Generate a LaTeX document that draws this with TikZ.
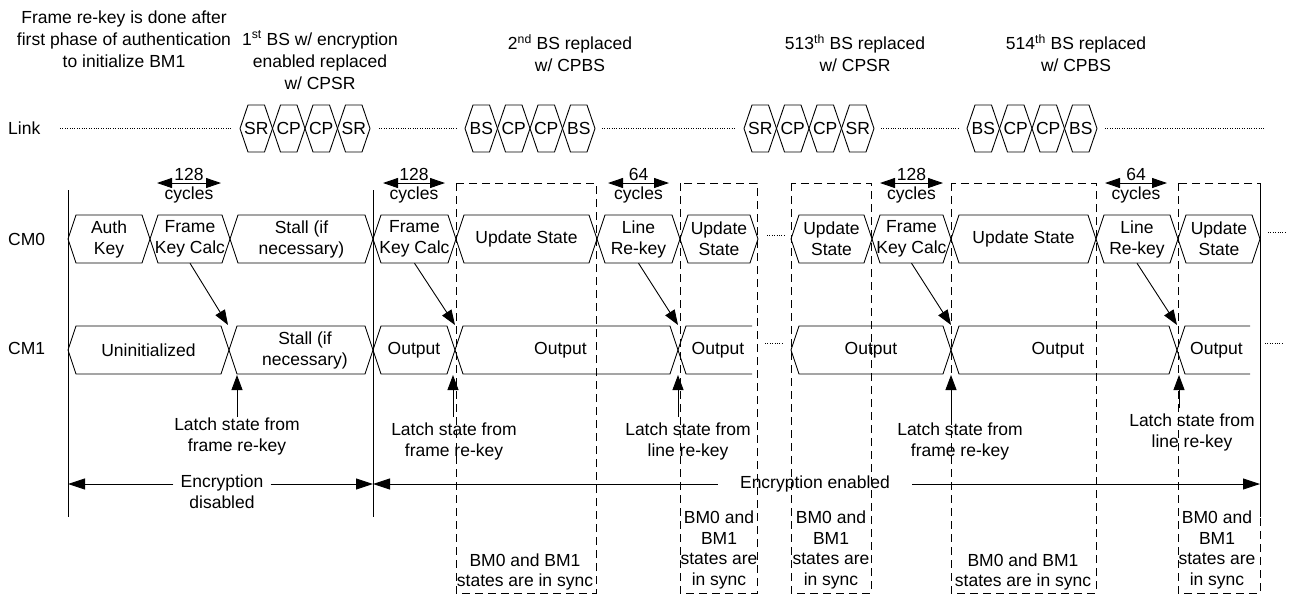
\documentclass[tikz,border=0pt]{standalone}
\usepackage{fontspec}
\setmainfont{Liberation Sans}
\usetikzlibrary{arrows.meta}
\tikzset{
  txt/.style={font=\fontsize{17.5}{21}\selectfont, inner sep=0pt, align=center},
  ttl/.style={font=\fontsize{17.5}{22}\selectfont, inner sep=0pt, align=center},
  ln/.style={line width=0.9pt, line join=miter},
  arr/.style={ln, -{Triangle[length=15pt,width=11pt]}},
  earr/.style={ln, -{Triangle[length=17pt,width=11pt]}},
  darr/.style={ln, {Triangle[length=15pt,width=10pt]}-{Triangle[length=15pt,width=10pt]}},
  dbox/.style={ln, dash pattern=on 8pt off 5pt},
  dotl/.style={line width=0.8pt, dash pattern=on 0.8pt off 1.6pt},
  seg/.style={txt, minimum height=48pt},
}
% hexagonal bus segment: [text xshift]{x1}{x2}{ymid}{name}{text}
\newcommand\hseg[6][0]{%
  \draw[ln] (#2,#4) -- ({#2+8},{#4-24}) -- ({#3-8},{#4-24}) -- (#3,#4) -- ({#3-8},{#4+24}) -- ({#2+8},{#4+24}) -- cycle;
  \node[seg, xshift=#1] (#5) at ({(#2+#3)/2},#4) {#6};}
% open-ended bus segment
\newcommand\oseg[5]{%
  \draw[ln] (#2,{#3-24}) -- ({#1+8},{#3-24}) -- (#1,#3) -- ({#1+8},{#3+24}) -- (#2,{#3+24});
  \node[seg] (#4) at ({(#1+#2)/2+3},#3) {#5};}
% link symbol hexagon
\newcommand\lhex[4]{%
  \draw[ln] (#1,128.5) -- ({#1+8},105) -- ({#2-8},105) -- (#2,128.5) -- ({#2-8},152) -- ({#1+8},152) -- cycle;
  \node[txt] (#3) at ({(#1+#2)/2},128.5) {#4};}
% cycles annotation
\newcommand\cyc[4]{%
  \coordinate (#4a) at (#1,183);
  \coordinate (#4b) at (#2,183);
  \draw[darr] (#4a) -- (#4b);
  \node[txt, anchor=base] (#4n) at ({(#1+#2)/2},180.5) {#3};
  \node[txt, anchor=base] (#4c) at ({(#1+#2)/2},199) {cycles};}
\begin{document}
\begin{tikzpicture}[x=1pt,y=-1pt]
\useasboundingbox (0,0) rectangle (1290,595);

% top annotations
\node[ttl] (t0) at (124,39) {Frame re-key is done after\\first phase of authentication\\to initialize BM1};
\node[ttl] (t1) at (320,60) {1\textsuperscript{st} BS w/ encryption\\enabled replaced\\w/ CPSR};
\node[ttl] (t2) at (570,53) {2\textsuperscript{nd} BS replaced\\w/ CPBS};
\node[ttl] (t3) at (855,53) {513\textsuperscript{th} BS replaced\\w/ CPSR};
\node[ttl] (t4) at (1076,53) {514\textsuperscript{th} BS replaced\\w/ CPBS};

% row labels
\node[txt, anchor=west] (rlink) at (8,128) {Link};
\node[txt, anchor=west] (rcm0) at (8,239) {CM0};
\node[txt, anchor=west] (rcm1) at (8,348) {CM1};

% link row
\draw[dotl] (60,128) -- (232,128);
\draw[dotl] (379,128) -- (457,128);
\draw[dotl] (602,128) -- (736,128);
\draw[dotl] (881,128) -- (959,128);
\draw[dotl] (1105,128) -- (1265,128);
\foreach \t [count=\i from 0] in {SR,CP,CP,SR} {\lhex{240+32.5*\i}{272.5+32.5*\i}{ga\i}{\t}}
\foreach \t [count=\i from 0] in {BS,CP,CP,BS} {\lhex{465+32.5*\i}{497.5+32.5*\i}{gb\i}{\t}}
\foreach \t [count=\i from 0] in {SR,CP,CP,SR} {\lhex{744+32.5*\i}{776.5+32.5*\i}{gc\i}{\t}}
\foreach \t [count=\i from 0] in {BS,CP,CP,BS} {\lhex{967+32.5*\i}{999.5+32.5*\i}{gd\i}{\t}}

% dashed sync boxes
\draw[dbox] (456,183) rectangle (596,593);
\draw[dbox] (680,183) rectangle (757,593);
\draw[dbox] (791,183) rectangle (871,593);
\draw[dbox] (951,183) rectangle (1096,593);
\draw[dbox] (1178,183) rectangle (1260,593);

% solid boundary lines
\coordinate (v1t) at (68,190); \coordinate (v1b) at (68,517);
\coordinate (v2t) at (373,190); \coordinate (v2b) at (373,517);
\coordinate (v3t) at (1260,183); \coordinate (v3b) at (1260,517);
\draw[ln] (v1t) -- (v1b);
\draw[ln] (v2t) -- (v2b);
\draw[ln] (v3t) -- (v3b);

% cycles annotations
\cyc{157}{221}{128}{ca}
\cyc{383}{445}{128}{cb}
\cyc{608}{669}{64}{cc}
\cyc{880}{943}{128}{cd}
\cyc{1105}{1167}{64}{ce}

% CM0 row
\hseg{68}{150}{239}{ak}{Auth\\Key}
\hseg{150}{230}{239}{fk1}{Frame\\Key Calc}
\hseg{230}{373}{239}{st0}{Stall (if\\necessary)}
\hseg{373}{456}{239}{fk2}{Frame\\Key Calc}
\hseg{456}{597}{239}{us1}{Update State}
\hseg{597}{680}{239}{lr1}{Line\\Re-key}
\hseg{680}{758}{239}{us2}{Update\\State}
\hseg{791}{872}{239}{us3}{Update\\State}
\hseg{872}{951}{239}{fk3}{Frame\\Key Calc}
\hseg{951}{1096}{239}{us4}{Update State}
\hseg{1096}{1178}{239}{lr2}{Line\\Re-key}
\hseg{1178}{1260}{239}{us5}{Update\\State}
\draw[dotl] (767,235) -- (785,235);
\draw[dotl] (1268,232) -- (1286,232);

% CM1 row
\hseg{68}{229}{350}{un}{Uninitialized}
\hseg[4]{229}{373}{350}{st1}{Stall (if\\necessary)}
\hseg{373}{455}{350}{op1}{Output}
\hseg[-6]{455}{678}{350}{op2}{Output}
\oseg{678}{752}{350}{op3}{Output}
\hseg{791}{951}{350}{op4}{Output}
\hseg[-6]{951}{1177}{350}{op5}{Output}
\oseg{1177}{1250}{350}{op6}{Output}
\draw[dotl] (765,343) -- (784,343);
\draw[dotl] (1265,343) -- (1284,343);

% key transfer arrows CM0 -> CM1
\coordinate (x1) at (228,325);
\coordinate (x2) at (455,325);
\coordinate (x3) at (678,325);
\coordinate (x4) at (951,325);
\coordinate (x5) at (1177,325);
\draw[arr] (fk1.south) -- (x1);
\draw[arr] (fk2.south) -- (x2);
\draw[arr] (lr1.south) -- (x3);
\draw[arr] (fk3.south) -- (x4);
\draw[arr] (lr2.south) -- (x5);

% latch labels and arrows
\node[txt] (lt1) at (237,436) {Latch state from\\frame re-key};
\node[txt] (lt2) at (454,441) {Latch state from\\frame re-key};
\node[txt] (lt3) at (688,441) {Latch state from\\line re-key};
\node[txt] (lt4) at (960,441) {Latch state from\\frame re-key};
\node[txt] (lt5) at (1192,432) {Latch state from\\line re-key};
\coordinate (b1) at (237,375);
\coordinate (b2) at (453,375);
\coordinate (b3) at (678,375);
\coordinate (b4) at (951,375);
\coordinate (b5) at (1179,375);
\coordinate (a2) at (453,417);
\coordinate (a3) at (678,417);
\coordinate (a4) at (951,417);
\coordinate (a5) at (1179,408);
\draw[arr] (lt1.north) -- (b1);
\draw[arr] (a2) -- (b2);
\draw[arr] (a3) -- (b3);
\draw[arr] (a4) -- (b4);
\draw[arr] (a5) -- (b5);

% encryption spans
\coordinate (e1) at (68,484);
\coordinate (e2) at (373,484);
\coordinate (e3) at (1260,484);
\node[txt, inner xsep=7pt] (encd) at (222,491.5) {Encryption\\disabled};
\node[txt, inner xsep=22pt] (ence) at (815,484) {Encryption enabled};
\draw[earr] (encd.west |- e1) -- (e1);
\draw[earr] (encd.east |- e2) -- (e2);
\draw[earr] (ence.west |- e2) -- (e2);
\draw[earr] (ence.east |- e3) -- (e3);

% sync box texts
\node[txt, font=\fontsize{17.5}{20.5}\selectfont] (s1) at (525,572) {BM0 and BM1\\states are in sync};
\node[txt, font=\fontsize{17.5}{20.5}\selectfont] (s2) at (719,550) {BM0 and\\BM1\\states are\\in sync};
\node[txt, font=\fontsize{17.5}{20.5}\selectfont] (s3) at (831,550) {BM0 and\\BM1\\states are\\in sync};
\node[txt, font=\fontsize{17.5}{20.5}\selectfont] (s4) at (1023,572) {BM0 and BM1\\states are in sync};
\node[txt, font=\fontsize{17.5}{20.5}\selectfont] (s5) at (1217,550) {BM0 and\\BM1\\states are\\in sync};
\end{tikzpicture}
\end{document}
